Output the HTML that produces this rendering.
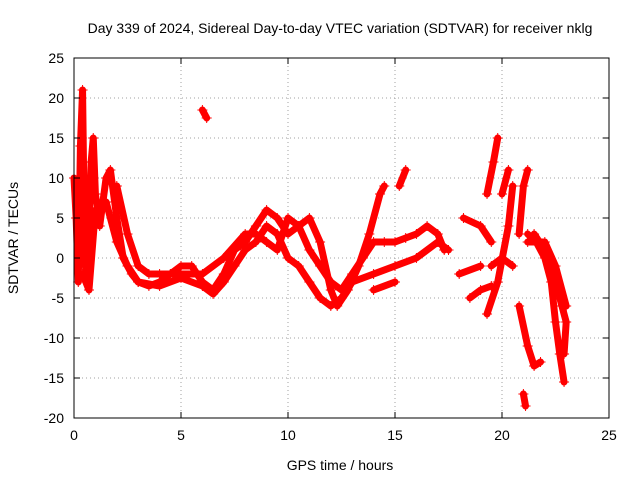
<!DOCTYPE html>
<html><head><meta charset="utf-8"><style>
body{margin:0;background:#fff;}
svg{display:block;font-family:"Liberation Sans",sans-serif;}
</style></head><body>
<svg id="chart" width="640" height="480">
<text x="340" y="33" font-size="14" text-anchor="middle">Day 339 of 2024, Sidereal Day-to-day VTEC variation (SDTVAR) for receiver nklg</text>
<text x="340" y="470" font-size="14" text-anchor="middle">GPS time / hours</text>
<text x="18" y="238" font-size="14" text-anchor="middle" transform="rotate(-90 18 238)">SDTVAR / TECUs</text>
<g id="grid"></g><g id="marks"></g><g id="axes"></g>
</svg>
<script>
const xTicks=[0,5,10,15,20,25];
const yTicks=[-20,-15,-10,-5,0,5,10,15,20,25];
const traceA=[[0,10],[0.1,5],[0.2,-3],[0.3,14],[0.4,21],[0.5,0],[0.6,-3],[0.8,12],[0.9,15],[1.0,8],[1.2,4],[1.5,10],[1.7,11],[2,5],[2.3,0],[2.7,-2],[3,-3],[3.5,-3.5],[4,-3],[4.5,-2],[5,-1],[5.5,-1],[6,-3],[6.5,-4],[7,-2],[7.5,1],[8,2],[8.5,4],[9,6],[9.5,5],[10,3],[10.5,4],[11,5],[11.5,2],[12,-4],[12.3,-6],[12.8,-4],[13.3,-1],[13.8,3],[14.3,8],[14.5,9]];
const traceB=[[0.4,-2],[0.7,-4],[1,6],[1.5,7],[2,2],[2.5,-1],[3,-3],[4,-3.5],[5,-2.5],[6,-3.5],[6.5,-4.5],[7,-3],[7.5,-1],[8,1],[8.5,2],[9,4],[9.5,3],[10,0],[10.5,-1],[11,-3],[11.5,-5],[12,-6],[12.5,-5],[13,-3],[14,-2],[15,-1],[16,0],[17,2],[17.5,1]];
const traceC=[[2,9],[2.5,3],[3,-1],[3.5,-2],[4,-2],[5,-2],[6,-2],[7,0],[8,3],[8.5,3],[9,2],[9.5,1],[10,5],[10.5,4],[11,1],[11.5,-1],[12,-3],[12.5,-4],[13,-2],[13.5,0],[14,2],[14.5,2],[15,2],[15.5,2.5],[16,3],[16.5,4],[17,3],[17.3,1]];
const traceD=[[6,18.5],[6.2,17.5]];
const traceE=[[14,-4],[15,-3]];
const traceF=[[15.2,9],[15.5,11]];
const traceG=[[18,-2],[19,-1]];
const traceH=[[18.2,5],[19,4],[19.5,2]];
const traceI=[[18.5,-5],[19,-4],[19.5,-3.5]];
const traceJ=[[19.3,-7],[19.8,-3],[20.3,4],[20.5,9]];
const traceK=[[19.3,8],[19.6,12],[19.8,15]];
const traceL=[[20,8],[20.3,11]];
const traceM=[[19.5,-1],[20,0],[20.5,-1]];
const traceN=[[20.8,-6],[21.2,-11],[21.5,-13.5],[21.8,-13]];
const traceO=[[21,-17],[21.1,-18.5]];
const traceP=[[20.8,3],[21,9],[21.2,11]];
const traceQ=[[21.2,3],[21.6,2],[22,0],[22.3,-3],[22.5,-8],[22.7,-12],[22.9,-15.5]];
const traceR=[[21.5,3],[22,1],[22.5,-3],[22.8,-6],[23,-8],[22.9,-12]];
const traceS=[[21.2,2],[22,2],[22.5,-1],[23,-6]];
const traces=[traceA,traceB,traceC,traceD,traceE,traceF,traceG,traceH,traceI,traceJ,traceK,traceL,traceM,traceN,traceO,traceP,traceQ,traceR,traceS];

const L=74,R=609,T=58,B=418,xmin=0,xmax=25,ymin=-20,ymax=25;
const sx=v=>L+(v-xmin)/(xmax-xmin)*(R-L);
const sy=v=>B-(v-ymin)/(ymax-ymin)*(B-T);
const NS="http://www.w3.org/2000/svg";
const mk=(t,a)=>{const e=document.createElementNS(NS,t);for(const k in a)e.setAttribute(k,a[k]);return e;};
const grid=document.getElementById('grid'),marks=document.getElementById('marks'),axes=document.getElementById('axes');
xTicks.forEach(t=>{
  const x=sx(t);
  if(t>xmin&&t<xmax){const g=mk('line',{x1:x,x2:x,y1:T,y2:B,stroke:'#a0a0a0','stroke-dasharray':'1,3'});
  
  grid.appendChild(g);}
  axes.appendChild(mk('line',{x1:x,x2:x,y1:B,y2:B-6,stroke:'#000'}));
  axes.appendChild(mk('line',{x1:x,x2:x,y1:T,y2:T+6,stroke:'#000'}));
  const tx=mk('text',{x:x,y:B+22,'font-size':14,'text-anchor':'middle'});tx.textContent=t;
  
  axes.appendChild(tx);
});
yTicks.forEach(t=>{
  const y=sy(t);
  if(t>ymin&&t<ymax){const g=mk('line',{x1:L,x2:R,y1:y,y2:y,stroke:'#a0a0a0','stroke-dasharray':'1,3'});
  
  grid.appendChild(g);}
  axes.appendChild(mk('line',{x1:L,x2:L+6,y1:y,y2:y,stroke:'#000'}));
  axes.appendChild(mk('line',{x1:R,x2:R-6,y1:y,y2:y,stroke:'#000'}));
  const tx=mk('text',{x:L-10,y:y+5,'font-size':14,'text-anchor':'end'});tx.textContent=t;
  
  axes.appendChild(tx);
});
const frame=mk('rect',{x:L,y:T,width:R-L,height:B-T,fill:'none',stroke:'#000'});

axes.appendChild(frame);
traces.forEach(tr=>{
  const pl=mk('polyline',{points:tr.map(p=>sx(p[0])+','+sy(p[1])).join(' '),fill:'none',stroke:'#f00','stroke-width':7,'stroke-linejoin':'round','stroke-linecap':'round'});
  
  marks.appendChild(pl);
  tr.forEach(p=>{
    const x=sx(p[0]),y=sy(p[1]);
    const m=mk('path',{d:`M${x-5},${y}H${x+5}M${x},${y-5}V${y+5}`,stroke:'#f00','stroke-width':1});
    
    marks.appendChild(m);
  });
});
</script>
</body></html>
